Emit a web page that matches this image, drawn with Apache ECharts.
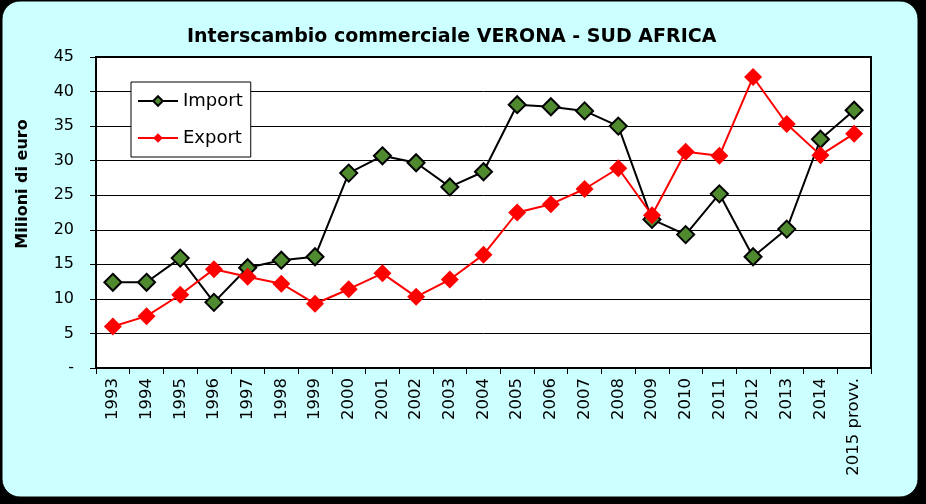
<!DOCTYPE html>
<html>
<head>
<meta charset="utf-8">
<script src="https://cdn.jsdelivr.net/npm/echarts@6/dist/echarts.min.js"></script>
<style>html,body{margin:0;padding:0;background:#000;}#c{width:926px;height:504px;}</style>
</head>
<body>
<div id="c"></div>
<script>
const categories = ['1993','1994','1995','1996','1997','1998','1999','2000','2001','2002','2003','2004','2005','2006','2007','2008','2009','2010','2011','2012','2013','2014','2015 provv.'];
const importValues = [12.4,12.4,15.9,9.5,14.5,15.6,16.1,28.2,30.7,29.7,26.2,28.4,38.1,37.8,37.2,35.0,21.5,19.3,25.2,16.1,20.1,33.1,37.3];
const exportValues = [6.0,7.5,10.6,14.3,13.2,12.2,9.3,11.4,13.7,10.3,12.8,16.4,22.5,23.7,25.9,28.9,22.1,31.3,30.7,42.1,35.3,30.8,33.9];
const titleText = 'Interscambio commerciale VERONA - SUD AFRICA';
const yAxisName = 'Milioni di euro';

const chart = echarts.init(document.getElementById('c'));
const font = 'Verdana, "DejaVu Sans", sans-serif';
chart.setOption({
  backgroundColor: '#000',
  animation: false,
  graphic: [{
    type: 'rect', z: -10, silent: true,
    shape: { x: 2, y: 1, width: 916, height: 496, r: 18 },
    style: { fill: '#CCFFFF', stroke: '#000', lineWidth: 1 }
  }, {
    type: 'text', silent: true, x: 23, y: 184, rotation: Math.PI / 2,
    style: { text: yAxisName, fill: '#000', font: 'bold 16px "DejaVu Sans", Verdana, sans-serif', align: 'center', verticalAlign: 'middle' }
  }],
  title: {
    text: titleText, left: 182, top: 23,
    textStyle: { fontFamily: '"DejaVu Sans", Tahoma, sans-serif', fontWeight: 'bold', fontSize: 19, color: '#000' }
  },
  legend: {
    orient: 'vertical', left: 131, top: 82,
    backgroundColor: '#fff', borderColor: '#000', borderWidth: 1,
    padding: [10, 8, 10, 6], itemGap: 19, itemWidth: 40, itemHeight: 12,
    textStyle: { fontFamily: font, fontSize: 18, color: '#000' },
    data: ['Import', 'Export']
  },
  grid: { left: 96, right: 55, top: 57, bottom: 136, show: true, backgroundColor: '#fff', borderColor: '#000', borderWidth: 2 },
  xAxis: {
    type: 'category', data: categories, boundaryGap: true,
    axisLine: { lineStyle: { color: '#000', width: 2 } },
    axisTick: { show: true, interval: 0, length: 6, lineStyle: { color: '#000' } },
    axisLabel: { interval: 0, rotate: 90, margin: 10, fontFamily: font, fontSize: 16.5, color: '#000' }
  },
  yAxis: {
    type: 'value', min: 0, max: 45, interval: 5,
    axisLine: { show: true, lineStyle: { color: '#000', width: 2 } },
    axisTick: { show: true, length: 6, lineStyle: { color: '#000' } },
    axisLabel: { margin: 22, fontFamily: font, fontSize: 16, color: '#000', formatter: v => v === 0 ? '-' : String(v) },
    splitLine: { lineStyle: { color: '#000', width: 1 } }
  },
  series: [
    {
      name: 'Import', type: 'line', data: importValues,
      symbol: 'diamond', symbolSize: 17,
      lineStyle: { color: '#000', width: 2 },
      itemStyle: { color: '#4F8A2F', borderColor: '#000', borderWidth: 2 },
      z: 3
    },
    {
      name: 'Export', type: 'line', data: exportValues,
      symbol: 'diamond', symbolSize: 18,
      lineStyle: { color: '#FF0000', width: 2 },
      itemStyle: { color: '#FF0000', borderWidth: 0 },
      z: 4
    }
  ]
});
</script>
</body>
</html>
